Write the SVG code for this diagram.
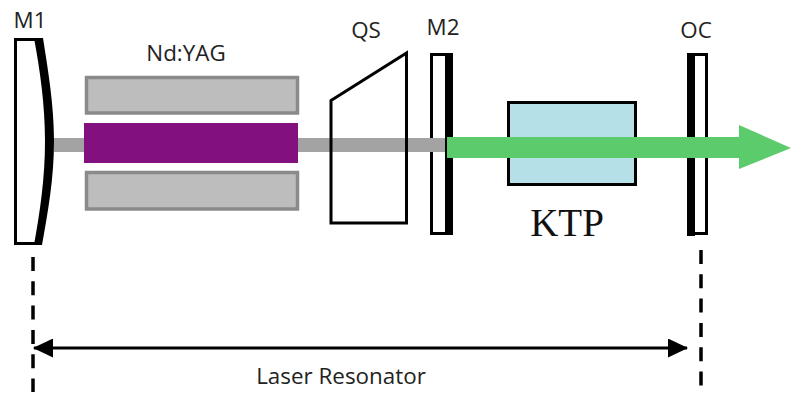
<svg xmlns="http://www.w3.org/2000/svg" width="792" height="393" viewBox="0 0 792 393">
<style>
.lbl{font-family:"Open Sans","Noto Sans",sans-serif;font-size:22.400px;fill:#222;text-anchor:middle}
.rod{fill:#bdbdbd;stroke:#8a8a8a;stroke-width:3.500}
.el{fill:#fff;stroke:#000;stroke-width:3}
.dash{fill:none;stroke:#000;stroke-width:3.500;stroke-dasharray:14 10.300}
</style>
<defs>
<marker id="ah" viewBox="0 0 20 19" refX="19" refY="9.500" markerWidth="20" markerHeight="19" markerUnits="userSpaceOnUse" orient="auto-start-reverse"><path d="M0 0L20 9.500L0 19z" fill="#000"/></marker>
</defs>
<rect width="792" height="393" fill="#fff"/>
<g id="M1">
<path d="M36 39.500H15.500V243.500H36" fill="#fff" stroke="#000" stroke-width="3"/>
<path d="M34 38H43C48 70 54 105 54 141C54 178 48 212 42 245H34C40 212 45 178 45 141C45 105 40 70 34 38Z" fill="#000"/>
<text class="lbl" x="30" y="28">M1</text>
</g>
<g id="M2">
<rect class="el" x="431.500" y="54.500" width="20" height="179"/>
</g>
<g id="OC">
<rect class="el" x="688.500" y="54.500" width="18" height="179"/>
</g>
<g id="beam"><rect x="54" y="138" width="392" height="14" fill="#a3a3a3"/></g>
<g id="M2-coating">
<rect x="445" y="53" width="8" height="182" fill="#000"/>
<text class="lbl" x="443" y="35">M2</text>
</g>
<g id="OC-coating">
<rect x="687" y="53" width="8" height="183" fill="#000"/>
<text class="lbl" x="696" y="38">OC</text>
</g>
<g id="NdYAG">
<rect class="rod" x="86.500" y="77.500" width="211" height="35.500"/>
<rect class="rod" x="86.500" y="172.500" width="211" height="36.500"/>
<rect x="84" y="123" width="214" height="40" fill="#83107f"/>
<text class="lbl" x="186" y="61">Nd:YAG</text>
</g>
<g id="QS">
<path d="M331 100.500L406.500 53V223H331Z" fill="none" stroke="#000" stroke-width="3"/>
<text class="lbl" x="366" y="38">QS</text>
</g>
<g id="KTP">
<rect x="508.500" y="102.500" width="127" height="82" fill="#b5e0e8" stroke="#000" stroke-width="3"/>
<text x="567" y="236" font-family="'Liberation Serif',serif" font-size="39" fill="#111" text-anchor="middle">KTP</text>
</g>
<g id="green-beam"><path d="M447 137H739V125L791 148L739 169V158H447Z" fill="#5ccb6b"/></g>
<g id="connectors">
<path class="dash" d="M33 257V392"/>
<path class="dash" d="M701 250V387"/>
<path d="M34 348H687" fill="none" stroke="#000" stroke-width="3" marker-start="url(#ah)" marker-end="url(#ah)"/>
</g>
<text class="lbl" x="341" y="384">Laser Resonator</text>
</svg>
